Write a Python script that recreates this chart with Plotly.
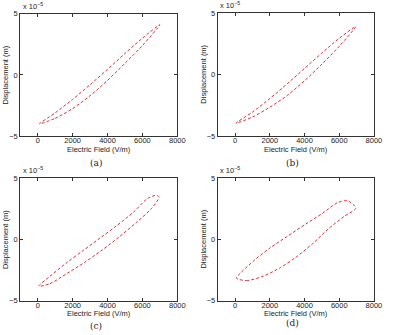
import plotly.graph_objects as go

# Data (Electric field in V/m, displacement in units of 1e-5 m), closed hysteresis loops
E_a = [100, 1000, 2000, 3000, 4000, 5000, 6000, 7000, 6000, 5000, 4000, 3000, 2000, 1000, 100]
D_a = [-4.0, -3.55, -2.75, -1.7, -0.45, 0.95, 2.4, 4.1, 3.0, 1.75, 0.45, -0.8, -2.0, -3.1, -4.0]

E_b = [50, 1000, 2000, 3000, 4000, 5000, 6000, 6950, 6000, 5000, 4000, 3000, 2000, 1000, 50]
D_b = [-3.95, -3.45, -2.65, -1.7, -0.5, 0.85, 2.3, 3.9, 2.95, 1.75, 0.5, -0.75, -1.95, -3.05, -3.95]

E_c = [60, 700, 1700, 2700, 3700, 4700, 5700, 6500, 6950, 6800, 6300, 5500, 4500, 3600, 2600, 1700, 700, 60]
D_c = [-3.8, -3.6, -2.75, -1.85, -0.85, 0.25, 1.45, 2.5, 3.45, 3.6, 3.35, 2.25, 1.1, 0.15, -0.9, -1.85, -3.0, -3.8]

E_d = [70, 650, 1600, 2600, 3500, 4500, 5400, 6300, 6950, 6500, 5900, 5000, 4000, 3000, 2000, 1100, 300, 70]
D_d = [-3.15, -3.35, -3.0, -2.3, -1.45, -0.3, 0.9, 1.9, 2.55, 3.15, 3.0, 2.1, 1.2, 0.25, -0.7, -1.7, -2.75, -3.15]

panels = [(E_a, D_a, "(a)"), (E_b, D_b, "(b)"), (E_c, D_c, "(c)"), (E_d, D_d, "(d)")]

x_ticks = [0, 2000, 4000, 6000, 8000]
y_ticks = [-5, 0, 5]
y_ticklabels = ["\u22125", "0", "5"]

W, H = 394, 335
# plot-area boxes in pixels: (left, right, top, bottom)
boxes = [(20.7, 181.0, 10.0, 135.7), (222.3, 381.7, 9.3, 135.7),
         (20.7, 181.0, 179.0, 305.0), (222.3, 381.7, 179.0, 305.0)]
caption_y = [163, 163, 331, 328]

fig = go.Figure()
ann = []
axis_color = "#333333"
tick_font = dict(family="Liberation Sans, Arial, sans-serif", size=7.5, color="#222222")

for i, ((E, D, cap), (l, r, t, b)) in enumerate(zip(panels, boxes)):
    n = "" if i == 0 else str(i + 1)
    fig.add_trace(go.Scatter(x=E, y=D, mode="lines", xaxis="x" + n, yaxis="y" + n,
                             line=dict(color="#e0303a", width=1, dash="3px,2px", shape="spline", smoothing=0.8),
                             showlegend=False, hoverinfo="skip"))
    xd = [l / W, r / W]
    yd = [1 - b / H, 1 - t / H]
    fig.layout["xaxis" + n] = dict(domain=xd, anchor="y" + n, range=[-1000, 8000],
                                   tickvals=x_ticks, ticks="inside", ticklen=3, tickcolor=axis_color,
                                   showline=True, linecolor=axis_color, linewidth=1, mirror="ticks",
                                   showgrid=False, zeroline=False, tickfont=tick_font,
                                   ticklabelstandoff=-3)
    fig.layout["yaxis" + n] = dict(domain=yd, anchor="x" + n, range=[-5, 5],
                                   tickvals=y_ticks, ticktext=y_ticklabels, ticks="inside", ticklen=3,
                                   tickcolor=axis_color, showline=True, linecolor=axis_color, linewidth=1,
                                   mirror="ticks", showgrid=False, zeroline=False, tickfont=tick_font)
    cx = (l + r) / 2
    ann.append(dict(text="Electric Field (V/m)", x=cx / W, y=1 - (b + 13.5) / H,
                    xref="paper", yref="paper", showarrow=False, xanchor="center", yanchor="middle",
                    font=tick_font))
    ann.append(dict(text="Displacement (m)", x=(l - 15) / W, y=1 - ((t + b) / 2) / H,
                    xref="paper", yref="paper", showarrow=False, xanchor="center", yanchor="middle",
                    textangle=-90, font=tick_font))
    ann.append(dict(text="x 10<sup>\u22125</sup>", x=(l + 0.5) / W, y=1 - (t - 1) / H,
                    xref="paper", yref="paper", showarrow=False, xanchor="left", yanchor="bottom",
                    font=tick_font))
    ann.append(dict(text=cap, x=(cx - 3) / W, y=1 - caption_y[i] / H,
                    xref="paper", yref="paper", showarrow=False, xanchor="center", yanchor="middle",
                    font=dict(family="DejaVu Serif, Liberation Serif, serif", size=9, color="#222222")))

fig.update_layout(width=W, height=H, margin=dict(l=0, r=0, t=0, b=0),
                  paper_bgcolor="white", plot_bgcolor="white", annotations=ann)

fig.write_html("out.html")
